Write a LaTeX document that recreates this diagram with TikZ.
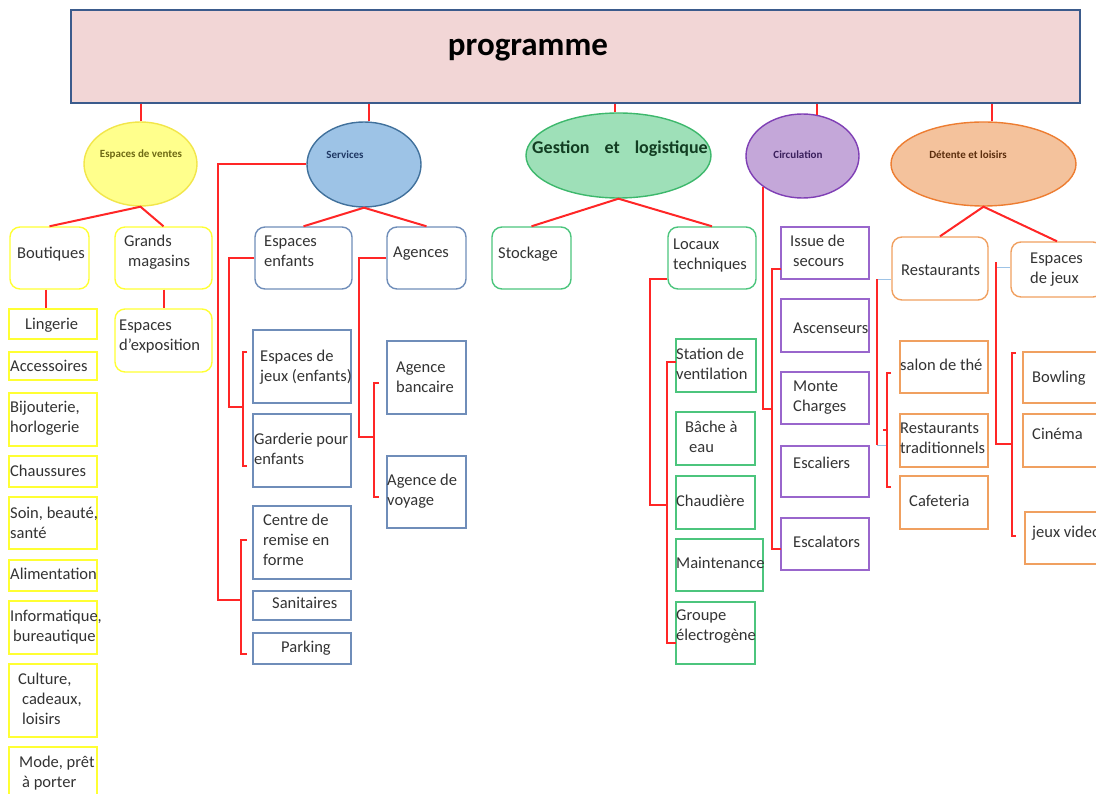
\documentclass[tikz,border=0pt]{standalone}
\usepackage{fontspec}
\setmainfont{Carlito}
\usetikzlibrary{shapes.geometric,calc}

\definecolor{linkred}{HTML}{FF2626}
\definecolor{linkblue}{HTML}{9DC3E6}
\definecolor{titlepink}{HTML}{F2D6D6}
\definecolor{titleblue}{HTML}{3B5B8C}
\definecolor{ylwline}{HTML}{FFFF33}
\definecolor{ylwfill}{HTML}{FFFF8C}
\definecolor{ylwdraw}{HTML}{F2E64A}
\definecolor{ylwtext}{HTML}{6E6A14}
\definecolor{bluefill}{HTML}{9DC3E6}
\definecolor{bluedraw}{HTML}{41719C}
\definecolor{blueline}{HTML}{6F8DB9}
\definecolor{bluetext}{HTML}{1F3864}
\definecolor{grnfill}{HTML}{9EE0B8}
\definecolor{grndraw}{HTML}{3DB86C}
\definecolor{grnline}{HTML}{4CC57D}
\definecolor{grntext}{HTML}{123D22}
\definecolor{purfill}{HTML}{C4A7D9}
\definecolor{purdraw}{HTML}{7F3FB5}
\definecolor{purline}{HTML}{9966CC}
\definecolor{purtext}{HTML}{3A1F5C}
\definecolor{orgfill}{HTML}{F4C29C}
\definecolor{orgdraw}{HTML}{ED7D31}
\definecolor{orgline}{HTML}{F0A060}
\definecolor{orgtext}{HTML}{5C2E0D}
\definecolor{txtgray}{HTML}{333333}

\tikzset{
  link/.style={draw=linkred, line width=2pt},
  softlink/.style={draw=linkblue, line width=1.6pt},
  boxbase/.style={rectangle, inner sep=0pt, line width=1.4pt},
  ybox/.style={boxbase, draw=ylwline},
  yround/.style={ybox, rounded corners=10pt},
  bbox/.style={boxbase, draw=blueline},
  bround/.style={bbox, rounded corners=10pt},
  gbox/.style={boxbase, draw=grnline},
  ground/.style={gbox, rounded corners=10pt},
  pbox/.style={boxbase, draw=purline},
  obox/.style={boxbase, draw=orgline},
  oround/.style={obox, rounded corners=10pt},
  titlebox/.style={boxbase, draw=titleblue, fill=titlepink, line width=2pt},
  lbl/.style={font=\fontsize{16.5}{20}\selectfont, text=txtgray, inner sep=0pt, align=left, anchor=north west},
  oval/.style={ellipse, inner sep=0pt, line width=1.4pt},
  ovaltext/.style={font=\fontsize{11}{13}\selectfont\bfseries, inner sep=0pt},
}

% box from its corners (x1,y1) to (x2,y2)
\newcommand\mkbox[6]{\node[#2, minimum width={(#5-#3)*1pt}, minimum height={(#6-#4)*1pt}] (#1) at ({(#3+#5)/2},{(#4+#6)/2}) {};}
% text block placed by the left end of its first baseline
\newcommand\mktext[4]{\node[lbl] (#1) at (#2,{#3-14}) {\strut #4};}

\begin{document}
\begin{tikzpicture}[x=1pt,y=-1pt]
\useasboundingbox (0,0) rectangle (1096,794);
\clip (0,0) rectangle (1096,794);

% title
\mkbox{title}{titlebox}{71}{10}{1080}{103}
\node[font=\fontsize{33}{38}\selectfont\bfseries, inner sep=0pt] (tTitle) at (528,50) {programme};

% main themes
\node[oval, fill=ylwfill, draw=ylwdraw, minimum width=113pt, minimum height=84pt] (ventes) at (140.5,164) {};
\node[oval, fill=bluefill, draw=bluedraw, minimum width=114pt, minimum height=85pt] (serv) at (364,164.5) {};
\node[oval, fill=grnfill, draw=grndraw, minimum width=185pt, minimum height=85pt] (gest) at (618.5,155.5) {};
\node[oval, fill=purfill, draw=purdraw, minimum width=113pt, minimum height=84pt] (circ) at (802.5,156) {};
\node[oval, fill=orgfill, draw=orgdraw, minimum width=185pt, minimum height=84pt] (det) at (983.5,164) {};

\node[ovaltext, text=ylwtext] (tVentes) at (141,155) {Espaces de ventes};
\node[ovaltext, text=bluetext] (tServ) at (345,155) {Services};
\node[font=\fontsize{18}{22}\selectfont\bfseries, text=grntext, inner sep=0pt] (tGest) at (620,149) {Gestion\hspace{15pt}et\hspace{15pt}logistique};
\node[ovaltext, text=purtext] (tCirc) at (798,155) {Circulation};
\node[ovaltext, text=orgtext] (tDet) at (968,155) {Détente et loisirs};

% Espaces de ventes
\mkbox{bout}{yround}{10}{227}{89}{289}
\mkbox{grands}{yround}{115}{227}{212}{289}
\mkbox{expo}{yround}{115}{309}{212}{372}
\mkbox{ling}{ybox}{9}{309}{97}{339}
\mkbox{acc}{ybox}{9}{352}{97}{380}
\mkbox{bij}{ybox}{9}{393}{97}{446}
\mkbox{chau}{ybox}{9}{456}{97}{487}
\mkbox{soin}{ybox}{9}{497}{97}{549}
\mkbox{alim}{ybox}{9}{560}{97}{591}
\mkbox{info}{ybox}{9}{601}{97}{654}
\mkbox{cult}{ybox}{9}{664}{97}{737}
\mkbox{mode}{ybox}{9}{747}{97}{810}

\mktext{tBout}{17}{258}{Boutiques}
\mktext{tGrands}{124}{246}{Grands\\\hspace*{4pt}magasins}
\mktext{tExpo}{119}{330}{Espaces\\d’exposition}
\mktext{tLing}{25}{329}{Lingerie}
\mktext{tAcc}{10}{371}{Accessoires}
\mktext{tBij}{10}{412}{Bijouterie,\\horlogerie}
\mktext{tChau}{10}{476}{Chaussures}
\mktext{tSoin}{10}{518}{Soin, beauté,\\santé}
\mktext{tAlim}{10}{579}{Alimentation}
\mktext{tInfo}{10}{621}{Informatique,\\\hspace*{3pt}bureautique}
\mktext{tCult}{18}{684}{Culture,\\\hspace*{4pt}cadeaux,\\\hspace*{4pt}loisirs}
\mktext{tMode}{19}{767}{Mode, prêt\\\hspace*{3pt}à porter}

% Services
\mkbox{esenf}{bround}{255}{227}{352}{289}
\mkbox{agen}{bround}{387}{227}{466}{289}
\mkbox{jeux}{bbox}{253}{330}{351}{403}
\mkbox{gard}{bbox}{253}{414}{351}{487}
\mkbox{centre}{bbox}{253}{506}{351}{579}
\mkbox{sanit}{bbox}{253}{591}{351}{620}
\mkbox{park}{bbox}{253}{633}{351}{664}
\mkbox{banc}{bbox}{387}{341}{466}{414}
\mkbox{voy}{bbox}{387}{456}{466}{528}

\mktext{tEsenf}{264}{246}{Espaces\\enfants}
\mktext{tAgen}{393}{257}{Agences}
\mktext{tJeux}{260}{361}{Espaces de\\jeux (enfants)}
\mktext{tBanc}{396}{372}{Agence\\bancaire}
\mktext{tGard}{254}{444}{Garderie pour\\enfants}
\mktext{tVoy}{387}{485}{Agence de\\voyage}
\mktext{tCentre}{263}{525}{Centre de\\remise en\\forme}
\mktext{tSanit}{272}{608}{Sanitaires}
\mktext{tPark}{281}{652}{Parking}

% Gestion et logistique
\mkbox{stock}{ground}{492}{227}{571}{289}
\mkbox{locaux}{ground}{668}{227}{756}{289}
\mkbox{stat}{gbox}{676}{339}{756}{392}
\mkbox{bache}{gbox}{676}{412}{755}{465}
\mkbox{chaud}{gbox}{676}{476}{755}{529}
\mkbox{maint}{gbox}{676}{539}{763}{591}
\mkbox{groupe}{gbox}{676}{602}{755}{664}

\mktext{tStock}{498}{258}{Stockage}
\mktext{tLocaux}{673}{249}{Locaux\\techniques}
\mktext{tStat}{676}{359}{Station de\\ventilation}
\mktext{tBache}{685}{432}{Bâche à\\\hspace*{4pt}eau}
\mktext{tChaud}{676}{506}{Chaudière}
\mktext{tMaint}{676}{568}{Maintenance}
\mktext{tGroupe}{676}{620}{Groupe\\électrogène}

% Circulation
\mkbox{issue}{pbox}{781}{227}{869}{279}
\mkbox{asc}{pbox}{781}{299}{869}{352}
\mkbox{monte}{pbox}{781}{372}{869}{424}
\mkbox{escal}{pbox}{781}{446}{869}{497}
\mkbox{escat}{pbox}{781}{518}{869}{570}

\mktext{tIssue}{790}{246}{Issue de\\\hspace*{3pt}secours}
\mktext{tAsc}{793}{333}{Ascenseurs}
\mktext{tMonte}{793}{391}{Monte\\Charges}
\mktext{tEscal}{793}{468}{Escaliers}
\mktext{tEscat}{793}{547}{Escalators}

% Détente et loisirs
\mkbox{resto}{oround}{892}{237}{988}{300}
\mkbox{espj}{oround}{1011}{242}{1103}{297}
\mkbox{salon}{obox}{900}{341}{988}{393}
\mkbox{rtrad}{obox}{900}{414}{988}{467}
\mkbox{cafe}{obox}{900}{476}{988}{529}
\mkbox{bowl}{obox}{1023}{352}{1110}{403}
\mkbox{cine}{obox}{1023}{414}{1110}{467}
\mkbox{video}{obox}{1025}{512}{1110}{564}

\mktext{tResto}{901}{275}{Restaurants}
\mktext{tEspj}{1030}{263}{Espaces\\de jeux}
\mktext{tSalon}{900}{370}{salon de thé}
\mktext{tRtrad}{900}{433}{Restaurants\\traditionnels}
\mktext{tCafe}{909}{506}{Cafeteria}
\mktext{tBowl}{1032}{382}{Bowling}
\mktext{tCine}{1032}{439}{Cinéma}
\mktext{tVideo}{1032}{537}{jeux video}

% title to themes
\coordinate (kV) at (ventes.north);
\coordinate (kS) at ([xshift=5pt]serv.north);
\coordinate (kG) at ([xshift=-3.5pt]gest.north);
\coordinate (kC) at ([xshift=14.5pt,yshift=-2pt]circ.north);
\coordinate (kD) at ([xshift=8.5pt]det.north);
\foreach \k in {kV,kS,kG,kC,kD}
  \draw[link] (title.south -| \k) -- (\k);

% themes to first-level items
\draw[link] (bout.north) -- (ventes.south) -- (grands.north);
\draw[link] (esenf.north) -- (serv.south) -- (agen.north);
\draw[link] (stock.north) -- (gest.south) -- (locaux.north);
\draw[link] (resto.north) -- (det.south) -- (espj.north);
\draw[link] ([xshift=-4pt]bout.south) -- ([xshift=-4pt]bout.south |- ling.north);
\draw[link] (grands.south) -- (expo.north);

% Services: left trunk and brackets
\coordinate (sMid) at (241,600);
\draw[link] (serv.west) -- ++(-88,0) |- (sMid);
\coordinate (sTop) at (247,540);
\coordinate (sBot) at (247,654);
\draw[link] (sTop) -- ++(-6,0) |- (sBot);

\coordinate (eMid) at (243,407);
\draw[link] (esenf.west) -- ++(-25,0) |- (eMid);
\coordinate (eTop) at (247,352);
\coordinate (eBot) at (247,466);
\draw[link] (eTop) -- ++(-4,0) |- (eBot);

\coordinate (aMid) at (374,437);
\draw[link] (agen.west) -- ++(-27,0) |- (aMid);
\coordinate (aTop) at (379,383);
\coordinate (aBot) at (379,497);
\draw[link] (aTop) -- ++(-5,0) |- (aBot);

% Locaux techniques
\coordinate (lOut) at ($(locaux.west)+(0,21)$);
\coordinate (lMid) at (667,505);
\draw[link] (lOut) -- ++(-17,0) |- (lMid);
\coordinate (lTop) at (676,362);
\coordinate (lBot) at (676,643);
\draw[link] (lTop) -- ++(-9,0) |- (lBot);

% Circulation
\coordinate (cMid) at (772,409);
\draw[link] (circ.218) |- (cMid);
\coordinate (cTop) at (781,269);
\coordinate (cBot) at (781,549);
\draw[link] (cTop) -- ++(-9,0) |- (cBot);

% Restaurants
\coordinate (rOut) at ($(resto.west)+(0,11)$);
\draw[softlink] (rOut) -- ++(-14,0) coordinate (rCorner);
\draw[link] (rCorner) -- ++(0,166) coordinate (rFoot);
\draw[softlink] (rFoot) -- ++(9,0);
\coordinate (rTop) at (891,373);
\coordinate (rBot) at (891,487);
\draw[link] (rTop) -- ++(-4,0) |- (rBot);
\coordinate (rTick) at (887,430);
\draw[link] (rTick) -- ++(-4,0);

% Espaces de jeux
\coordinate (jOut) at ($(espj.west)+(0,-2)$);
\draw[softlink] (jOut) -- ++(-14,0) coordinate (jCorner);
\coordinate (jMid) at (1012,444);
\draw[link] ($(jCorner)+(0,-5)$) |- (jMid);
\coordinate (jTop) at (1016,353);
\coordinate (jBot) at (1016,536);
\draw[link] (jTop) -- ++(-4,0) |- (jBot);
\end{tikzpicture}
\end{document}
